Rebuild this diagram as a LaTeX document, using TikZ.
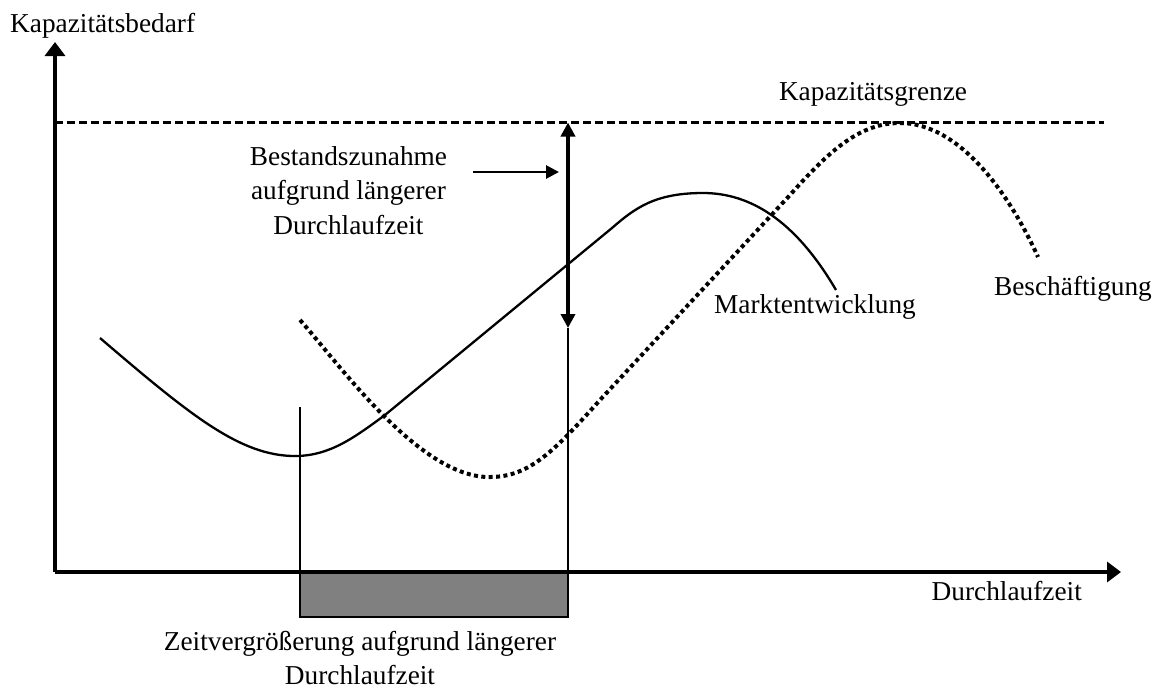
\documentclass[tikz,border=0pt]{standalone}
\usepackage{fontspec}
\setmainfont{Liberation Serif}
\usetikzlibrary{arrows.meta}
\tikzset{
  lbl/.style={font=\fontsize{27.3}{34.5}\selectfont, inner sep=0pt, align=center},
  axis/.style={line width=3.4pt, -{Triangle[width=20pt,length=14pt]}},
  markt/.style={line width=2.3pt},
  besch/.style={line width=4pt, dash pattern=on 4pt off 3.4pt},
  grenze/.style={line width=2.4pt, dash pattern=on 8pt off 4pt},
  thin/.style={line width=1.6pt},
}
\begin{document}
\begin{tikzpicture}[x=1pt,y=-1pt]
\useasboundingbox (0,0) rectangle (1158,689);
% coordinates
\coordinate (O) at (55,572);
\coordinate (ytip) at (55,42);
\coordinate (xtip) at (1121,572);
\coordinate (gl) at (55,122.5);
\coordinate (gr) at (1104,122.5);
\coordinate (atop) at (568,122.5);
\coordinate (abot) at (568,328);
\coordinate (aaxis) at (568,572);
\coordinate (harL) at (473,172);
\coordinate (harR) at (559,172);
\coordinate (vtop) at (300,407);
\coordinate (vbot) at (300,572);
% gray box
\draw[thin, fill={rgb,255:red,128;green,128;blue,128}] (300,572) rectangle (568,617);
% axes
\draw[axis] (O) -- (ytip);
\draw[axis] (O) -- (xtip);
% capacity limit
\draw[grenze] (gl) -- (gr);
% vertical lines
\draw[thin] (vtop) -- (vbot);
\draw[line width=2.8pt] (abot) -- (aaxis);
\draw[line width=4.6pt, {Triangle[width=14pt,length=14pt]}-{Triangle[width=14pt,length=14pt]}] (atop) -- (abot);
\draw[line width=2.8pt, -{Triangle[width=13pt,length=13pt]}] (harL) -- (harR);
% Marktentwicklung curve
\draw[markt] (100,338) .. controls (190,415) and (240,456) .. (295,456)
  .. controls (330,456) and (355,437) .. (385,415) -- (612,228)
  .. controls (635,208) and (655,193) .. (703,193)
  .. controls (750,193) and (795,220) .. (836,290);
% Beschaeftigung curve
\draw[besch] (300,320) .. controls (340,365) and (420,478) .. (490,477)
  .. controls (530,477) and (555,450) .. (600,400) -- (790,195)
  .. controls (830,150) and (860,123) .. (900,123)
  .. controls (960,123) and (1010,195) .. (1038,257);
% labels
\node[lbl, anchor=base west] (kb) at (10,32) {Kapazitätsbedarf};
\node[lbl, anchor=base] (kg) at (873,100) {Kapazitätsgrenze};
\node[lbl, anchor=base] (mk) at (815,313) {Marktentwicklung};
\node[lbl, anchor=base] (bs) at (1073,295) {Beschäftigung};
\node[lbl, anchor=base east] (dz) at (1082,600) {Durchlaufzeit};
\node[lbl, anchor=north] (bz) at (348.5,146) {Bestandszunahme\\aufgrund längerer\\Durchlaufzeit};
\node[lbl, anchor=north] (zv) at (360,631) {Zeitvergrößerung aufgrund längerer\\Durchlaufzeit};
\end{tikzpicture}
\end{document}
